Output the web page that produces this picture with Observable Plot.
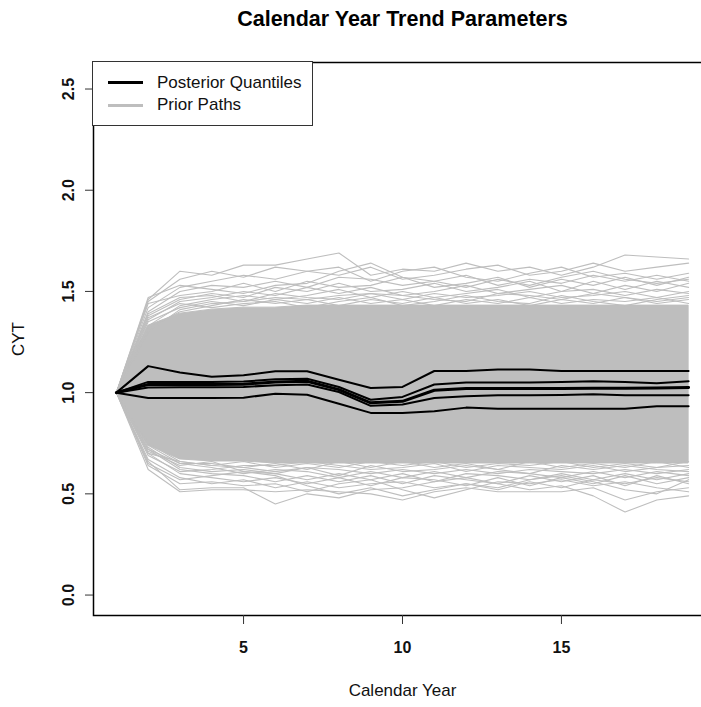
<!DOCTYPE html>
<html><head><meta charset="utf-8">
<script src="https://cdn.jsdelivr.net/npm/d3@7"></script>
<script src="https://cdn.jsdelivr.net/npm/@observablehq/plot@0.6"></script>
<style>
body{margin:0;overflow:hidden;background:#fff;font-family:"Liberation Sans",Arial,sans-serif;}
#wrap{position:relative;width:701px;height:707px;overflow:hidden;}
#chart svg{max-width:none !important;display:block;}
#legend{position:absolute;left:92px;top:61px;width:221px;height:65px;border:1.5px solid #333;background:#fff;box-sizing:border-box;}
.sw{position:absolute;left:15px;width:35px;height:0;border-top:3px solid #000;}
.lt{position:absolute;left:64px;font-size:17px;color:#111;line-height:20px;}
</style></head>
<body><div id="wrap"><div id="chart"></div>
<div id="legend">
<div class="sw" style="top:19px;border-color:#000"></div><div class="lt" style="top:11px">Posterior Quantiles</div>
<div class="sw" style="top:42px;border-color:#bebebe"></div><div class="lt" style="top:33px">Prior Paths</div>
</div></div>
<script>
const years = [1,2,3,4,5,6,7,8,9,10,11,12,13,14,15,16,17,18,19];
const xTicks = [5,10,15];
const yTicks = [0,0.5,1,1.5,2,2.5];
const yTickLabels = ["0.0","0.5","1.0","1.5","2.0","2.5"];

// Posterior quantile paths
const q95 = [1.000,1.131,1.100,1.078,1.086,1.106,1.106,1.064,1.023,1.028,1.107,1.107,1.114,1.114,1.107,1.107,1.107,1.107,1.107];
const q75 = [1.000,1.053,1.053,1.053,1.055,1.066,1.069,1.028,0.965,0.979,1.040,1.050,1.050,1.050,1.052,1.056,1.052,1.046,1.056];
const q50 = [1.000,1.040,1.040,1.040,1.042,1.053,1.056,1.015,0.950,0.957,1.012,1.020,1.020,1.021,1.021,1.022,1.022,1.023,1.025];
const q25 = [1.000,1.025,1.027,1.027,1.028,1.037,1.040,1.003,0.935,0.941,0.974,0.982,0.987,0.987,0.988,0.992,0.987,0.987,0.987];
const q05 = [1.000,0.974,0.974,0.974,0.975,0.995,0.990,0.945,0.900,0.900,0.908,0.926,0.921,0.921,0.921,0.921,0.921,0.933,0.933];

// Dense core of the prior paths (lower / upper envelope of the solid grey)
const coreLo = [1.00,0.74,0.67,0.66,0.66,0.65,0.65,0.65,0.65,0.65,0.65,0.65,0.65,0.65,0.65,0.65,0.65,0.65,0.65];
const coreHi = [1.00,1.33,1.39,1.41,1.42,1.42,1.43,1.43,1.43,1.43,1.43,1.43,1.43,1.43,1.43,1.43,1.43,1.43,1.43];

// Individual visible prior paths outside the core
const p01 = [1.0,1.46,1.60,1.58,1.63,1.63,1.66,1.69,1.58,1.61,1.60,1.64,1.60,1.62,1.58,1.62,1.68,1.67,1.66];
const p02 = [1.0,1.45,1.56,1.60,1.57,1.62,1.60,1.58,1.62,1.56,1.58,1.61,1.63,1.58,1.60,1.64,1.60,1.62,1.64];
const p03 = [1.0,1.42,1.52,1.55,1.58,1.56,1.60,1.62,1.55,1.60,1.62,1.57,1.55,1.59,1.62,1.57,1.59,1.56,1.59];
const p04 = [1.0,1.40,1.50,1.53,1.52,1.55,1.52,1.57,1.56,1.53,1.55,1.58,1.53,1.56,1.54,1.58,1.55,1.58,1.55];
const p05 = [1.0,1.44,1.48,1.50,1.54,1.50,1.55,1.52,1.53,1.57,1.52,1.54,1.57,1.52,1.56,1.53,1.57,1.53,1.57];
const p06 = [1.0,1.38,1.46,1.49,1.47,1.52,1.50,1.54,1.50,1.51,1.54,1.50,1.52,1.55,1.50,1.55,1.51,1.55,1.52];
const p07 = [1.0,1.36,1.45,1.47,1.50,1.48,1.52,1.49,1.52,1.48,1.50,1.53,1.49,1.51,1.53,1.49,1.53,1.50,1.54];
const p08 = [1.0,1.33,1.43,1.46,1.48,1.46,1.48,1.51,1.47,1.50,1.47,1.49,1.51,1.47,1.50,1.51,1.48,1.51,1.49];
const p09 = [1.0,1.30,1.41,1.44,1.45,1.47,1.46,1.48,1.49,1.46,1.49,1.47,1.48,1.50,1.47,1.48,1.50,1.47,1.50];
const p10 = [1.0,1.47,1.53,1.51,1.49,1.53,1.54,1.60,1.64,1.57,1.55,1.52,1.56,1.53,1.57,1.60,1.56,1.54,1.56];
const p11 = [1.0,0.66,0.52,0.53,0.53,0.45,0.50,0.48,0.52,0.53,0.56,0.58,0.55,0.52,0.54,0.49,0.41,0.47,0.49];
const p12 = [1.0,0.62,0.51,0.52,0.52,0.51,0.52,0.51,0.50,0.47,0.51,0.53,0.51,0.51,0.51,0.53,0.47,0.51,0.53];
const p13 = [1.0,0.64,0.55,0.56,0.54,0.55,0.51,0.55,0.57,0.52,0.48,0.52,0.56,0.55,0.57,0.54,0.56,0.53,0.51];
const p14 = [1.0,0.67,0.58,0.55,0.57,0.53,0.56,0.53,0.55,0.56,0.53,0.55,0.52,0.56,0.53,0.57,0.55,0.58,0.56];
const p15 = [1.0,0.70,0.60,0.58,0.56,0.58,0.55,0.58,0.54,0.58,0.57,0.54,0.58,0.54,0.58,0.55,0.59,0.55,0.58];
const p16 = [1.0,0.72,0.62,0.60,0.59,0.56,0.59,0.56,0.59,0.55,0.59,0.57,0.55,0.59,0.56,0.59,0.54,0.59,0.55];
const p17 = [1.0,0.73,0.63,0.61,0.62,0.60,0.57,0.60,0.57,0.60,0.56,0.60,0.59,0.57,0.60,0.57,0.60,0.57,0.60];
const p18 = [1.0,0.74,0.65,0.63,0.60,0.62,0.61,0.58,0.61,0.58,0.61,0.58,0.61,0.60,0.58,0.61,0.58,0.61,0.59];
const p19 = [1.0,0.75,0.66,0.64,0.63,0.61,0.63,0.62,0.60,0.62,0.60,0.62,0.60,0.62,0.61,0.60,0.62,0.60,0.62];
const p20 = [1.0,0.65,0.57,0.59,0.61,0.59,0.54,0.50,0.53,0.49,0.52,0.55,0.53,0.57,0.59,0.56,0.52,0.50,0.57];
const p21 = [1.0,1.35,1.42,1.45,1.43,1.46,1.44,1.47,1.44,1.46,1.43,1.46,1.44,1.47,1.44,1.46,1.45,1.47,1.44];
const p22 = [1.0,1.32,1.40,1.43,1.46,1.44,1.46,1.43,1.46,1.44,1.47,1.44,1.46,1.43,1.46,1.44,1.47,1.44,1.46];
const p23 = [1.0,1.37,1.44,1.42,1.44,1.45,1.42,1.45,1.47,1.43,1.45,1.48,1.45,1.44,1.48,1.45,1.43,1.46,1.48];
const p24 = [1.0,1.39,1.47,1.48,1.45,1.49,1.47,1.46,1.49,1.48,1.46,1.45,1.49,1.48,1.46,1.49,1.47,1.45,1.47];
const p25 = [1.0,0.70,0.66,0.64,0.66,0.63,0.65,0.63,0.66,0.64,0.66,0.63,0.65,0.64,0.66,0.63,0.65,0.63,0.66];
const p26 = [1.0,0.72,0.65,0.65,0.63,0.65,0.62,0.66,0.63,0.66,0.63,0.65,0.62,0.66,0.63,0.65,0.63,0.66,0.63];
const p27 = [1.0,0.69,0.61,0.62,0.64,0.64,0.66,0.64,0.62,0.63,0.65,0.61,0.64,0.63,0.62,0.64,0.61,0.63,0.64];
const p28 = [1.0,0.71,0.64,0.66,0.61,0.60,0.63,0.59,0.64,0.61,0.62,0.64,0.62,0.60,0.64,0.62,0.64,0.62,0.61];
const priorPaths = [p01,p02,p03,p04,p05,p06,p07,p08,p09,p10,p11,p12,p13,p14,p15,p16,p17,p18,p19,p20,p21,p22,p23,p24,p25,p26,p27,p28];

const coreRows = years.map((yr,i)=>({year:yr, lo:coreLo[i], hi:coreHi[i]}));
const priorRows = priorPaths.flatMap((p,k)=>p.map((v,i)=>({path:k, year:years[i], value:v})));
const quantiles = {q05,q25,q75,q95};
const qRows = Object.entries(quantiles).flatMap(([k,p])=>p.map((v,i)=>({q:k, year:years[i], value:v})));
const medRows = q50.map((v,i)=>({year:years[i], value:v}));

const font = '"Liberation Sans", Arial, sans-serif';
const chart = Plot.plot({
  width: 711, height: 707,
  marginLeft: 93, marginRight: 0, marginTop: 62, marginBottom: 92,
  style: {fontFamily: font, background: "#fff", overflow: "hidden", maxWidth: "none"},
  x: {domain: [0.28, 19.72], axis: null},
  y: {domain: [-0.101, 2.631], axis: null},
  marks: [
    Plot.areaY(coreRows, {x: "year", y1: "lo", y2: "hi", fill: "#bebebe", stroke: "#bebebe", strokeWidth: 1}),
    Plot.line(priorRows, {x: "year", y: "value", z: "path", stroke: "#bebebe", strokeWidth: 1.1}),
    Plot.line(qRows, {x: "year", y: "value", z: "q", stroke: "#000", strokeWidth: 2}),
    Plot.line(medRows, {x: "year", y: "value", stroke: "#000", strokeWidth: 3}),
    Plot.frame({stroke: "#000", strokeWidth: 1.5}),
    Plot.axisY(yTicks, {anchor: "left", tickSize: 8, tickFormat: () => "", label: null, stroke: "#333"}),
    Plot.axisX(xTicks, {anchor: "bottom", tickSize: 9, tickFormat: () => "", label: null, stroke: "#333"}),
    Plot.text(yTicks, {y: d => d, text: (d,i) => yTickLabels[i], frameAnchor: "left", dx: -25, rotate: -90, textAnchor: "middle", lineAnchor: "middle", fontSize: 16, fontWeight: "bold", fill: "#111"}),
    Plot.text(xTicks, {x: d => d, text: d => String(d), frameAnchor: "bottom", dy: 32, textAnchor: "middle", lineAnchor: "middle", fontSize: 16, fontWeight: "bold", fill: "#111"}),
    Plot.text(["Calendar Year"], {frameAnchor: "bottom", dy: 75, textAnchor: "middle", lineAnchor: "middle", fontSize: 17, fill: "#111"}),
    Plot.text(["CYT"], {frameAnchor: "left", dx: -75, rotate: -90, textAnchor: "middle", lineAnchor: "middle", fontSize: 17, fill: "#111"}),
    Plot.text(["Calendar Year Trend Parameters"], {frameAnchor: "top", dy: -43, textAnchor: "middle", lineAnchor: "middle", fontSize: 21.5, fontWeight: "bold", fill: "#000"})
  ]
});
document.getElementById("chart").appendChild(chart);
</script></body></html>
